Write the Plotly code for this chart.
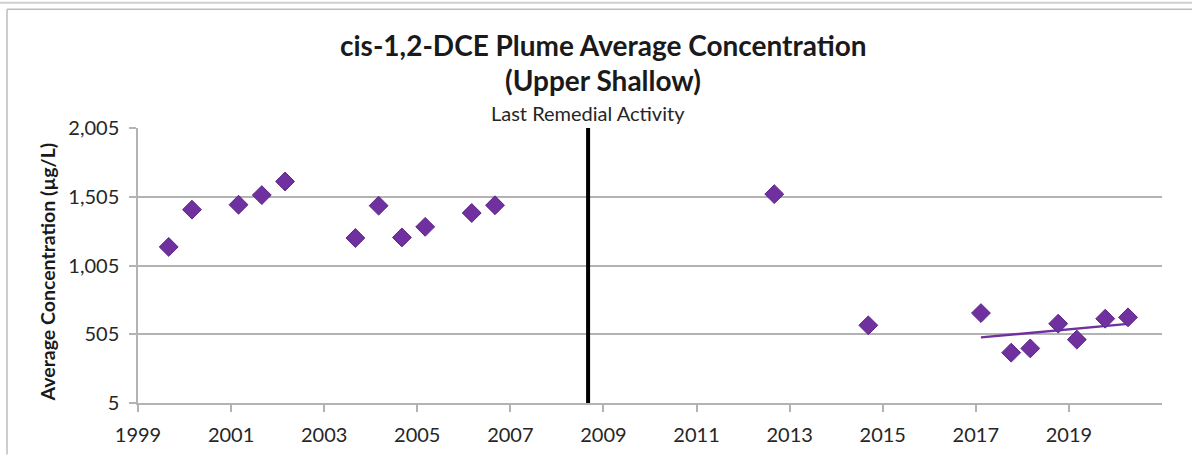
import numpy as np
import plotly.graph_objects as go

# ---- data (decimal year, average concentration µg/L) ----
years = [1999.66, 2000.16, 2001.16, 2001.66, 2002.16, 2003.67, 2004.17, 2004.67,
         2005.17, 2006.17, 2006.67, 2012.67, 2014.69, 2017.11, 2017.76, 2018.17,
         2018.77, 2019.17, 2019.78, 2020.27]
conc = [1140, 1411, 1447, 1517, 1616, 1205, 1440, 1209,
        1286, 1387, 1443, 1524, 570, 659, 371, 402,
        582, 466, 618, 628]
trend_start_year = 2017
remedial_year = 2008.67
remedial_label = "Last Remedial Activity"
y_ticks = [5, 505, 1005, 1505, 2005]
y_tick_labels = ["5", "505", "1,005", "1,505", "2,005"]
x_ticks = [1999, 2001, 2003, 2005, 2007, 2009, 2011, 2013, 2015, 2017, 2019]
title_line1 = "cis-1,2-DCE Plume Average Concentration"
title_line2 = "(Upper Shallow)"
y_title = "Average Concentration (µg/L)"

PURPLE = "#7030A0"
GRID = "#b3b3b3"
FONT = "Lato"

W, H = 1192, 458
ML, MR, MT, MB = 138, 30, 128, 52
PW, PH = W - ML - MR, H - MT - MB


def px_to_paper_x(px):
    return (px - ML) / PW


def px_to_paper_y(py):
    return (H - MB - py) / PH


xa = np.array(years)
ya = np.array(conc)
mask = xa >= trend_start_year
coef = np.polyfit(xa[mask], ya[mask], 1)
tx = np.array([xa[mask].min(), xa[mask].max()])
ty = np.polyval(coef, tx)

fig = go.Figure()
fig.add_trace(go.Scatter(x=tx, y=ty, mode="lines",
                         line=dict(color=PURPLE, width=2.5), hoverinfo="skip"))
fig.add_trace(go.Scatter(x=years, y=conc, mode="markers",
                         marker=dict(symbol="diamond", size=14.5, color=PURPLE,
                                     line=dict(color="#5a2585", width=1))))

# remedial activity line
fig.add_shape(type="line", xref="x", yref="y", x0=remedial_year, x1=remedial_year,
              y0=y_ticks[0], y1=y_ticks[-1], line=dict(color="black", width=4))
fig.add_annotation(x=remedial_year, xref="x", y=px_to_paper_y(113), yref="paper",
                   text=remedial_label, showarrow=False, yanchor="middle",
                   font=dict(family=FONT, size=20, color="#262626"))

# titles
fig.add_annotation(x=px_to_paper_x(603), y=px_to_paper_y(44), xref="paper", yref="paper",
                   text="<b>" + title_line1 + "</b>", showarrow=False, yanchor="middle",
                   font=dict(family=FONT, size=28, color="#1a1a1a"))
fig.add_annotation(x=px_to_paper_x(603), y=px_to_paper_y(79), xref="paper", yref="paper",
                   text="<b>" + title_line2 + "</b>", showarrow=False, yanchor="middle",
                   font=dict(family=FONT, size=28, color="#1a1a1a"))
fig.add_annotation(x=px_to_paper_x(47), y=px_to_paper_y(274), xref="paper", yref="paper",
                   text="<b>" + y_title + "</b>", showarrow=False, textangle=-90,
                   xanchor="center", yanchor="middle",
                   font=dict(family=FONT, size=19.5, color="#1a1a1a"))

# outer frame lines
fig.add_shape(type="line", xref="paper", yref="paper",
              x0=px_to_paper_x(0), x1=px_to_paper_x(W), y0=px_to_paper_y(1.5), y1=px_to_paper_y(1.5),
              line=dict(color="#cfcfcf", width=2))
fig.add_shape(type="line", xref="paper", yref="paper",
              x0=px_to_paper_x(7), x1=px_to_paper_x(W), y0=px_to_paper_y(8), y1=px_to_paper_y(8),
              line=dict(color="#bdbdbd", width=1.5))
fig.add_shape(type="line", xref="paper", yref="paper",
              x0=px_to_paper_x(7), x1=px_to_paper_x(7), y0=px_to_paper_y(8), y1=px_to_paper_y(H),
              line=dict(color="#bdbdbd", width=1.5))

fig.update_layout(
    width=W, height=H,
    margin=dict(l=ML, r=MR, t=MT, b=MB),
    paper_bgcolor="white", plot_bgcolor="white",
    showlegend=False,
    font=dict(family=FONT, color="#262626"),
    xaxis=dict(range=[1999, 2021], tickvals=x_ticks, ticktext=[str(v) for v in x_ticks],
               showgrid=False, zeroline=False, showline=True, linecolor=GRID, linewidth=1.5,
               ticks="outside", ticklen=7, tickcolor=GRID, tickwidth=1.5,
               ticklabelstandoff=6, tickfont=dict(family=FONT, size=20, color="#262626")),
    yaxis=dict(range=[y_ticks[0], y_ticks[-1]], tickvals=y_ticks, ticktext=y_tick_labels,
               showgrid=True, gridcolor=GRID, gridwidth=1.5, zeroline=False,
               showline=True, linecolor=GRID, linewidth=1.5,
               ticks="outside", ticklen=7, tickcolor=GRID, tickwidth=1.5,
               ticklabelstandoff=6, tickfont=dict(family=FONT, size=20, color="#262626")),
)

fig.write_html("out.html", config={"displayModeBar": False},
               post_script="document.body.style.margin='0';document.body.style.overflow='hidden';")
